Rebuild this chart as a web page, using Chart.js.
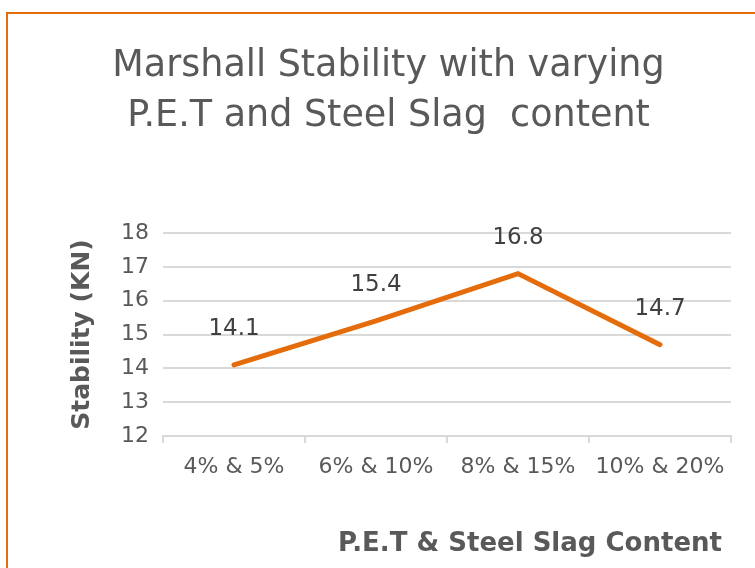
<!DOCTYPE html>
<html>
<head>
<meta charset="utf-8">
<script src="https://cdn.jsdelivr.net/npm/chart.js@4/dist/chart.umd.min.js"></script>
<style>
  html, body { margin: 0; padding: 0; background: #fff; }
  #wrap { position: relative; width: 755px; height: 568px; overflow: hidden; }
  #frame { position: absolute; left: 6px; top: 12px; width: 820px; height: 640px; border: 2px solid #E46C0A; box-sizing: border-box; }
  canvas { position: absolute; left: 0; top: 0; }
</style>
</head>
<body>
<div id="wrap">
  <div id="frame"></div>
  <canvas id="c" width="755" height="568"></canvas>
</div>
<script>
const categories = ["4% & 5%", "6% & 10%", "8% & 15%", "10% & 20%"];
const stability = [14.1, 15.4, 16.8, 14.7];
const titleLines = ["Marshall Stability with varying", "P.E.T and Steel Slag  content"];
const xTitle = "P.E.T & Steel Slag Content";
const yTitle = "Stability (KN)";
const yMin = 12, yMax = 18, yStep = 1;

const FONT = "'DejaVu Sans', sans-serif";

const dataLabels = {
  id: 'dataLabels',
  afterDatasetsDraw(chart) {
    const ctx = chart.ctx;
    const meta = chart.getDatasetMeta(0);
    ctx.save();
    ctx.font = "23px " + FONT;
    ctx.fillStyle = "#404040";
    ctx.textAlign = "center";
    ctx.textBaseline = "middle";
    meta.data.forEach((pt, i) => {
      ctx.fillText(String(chart.data.datasets[0].data[i]), pt.x, pt.y - 36);
    });
    ctx.restore();
  }
};

new Chart(document.getElementById('c'), {
  type: 'line',
  data: {
    labels: categories,
    datasets: [{
      data: stability,
      borderColor: '#E46C0A',
      borderWidth: 5,
      borderCapStyle: 'round',
      borderJoinStyle: 'miter',
      pointRadius: 0,
      tension: 0,
      fill: false
    }]
  },
  options: {
    responsive: false,
    animation: false,
    devicePixelRatio: 1,
    layout: { padding: { left: 46, right: 24, top: 42, bottom: 8 } },
    plugins: {
      legend: { display: false },
      tooltip: { enabled: false },
      title: {
        display: true,
        text: titleLines,
        color: '#595959',
        font: { family: FONT, size: 36.5, weight: 'normal', lineHeight: 1.37 },
        padding: { top: 0, bottom: 91 }
      }
    },
    scales: {
      x: {
        offset: true,
        grid: { display: true, drawOnChartArea: false, drawTicks: true, tickLength: 7, offset: true, color: '#D9D9D9', lineWidth: 2 },
        border: { display: true, color: '#D9D9D9', width: 2 },
        ticks: { color: '#595959', font: { family: FONT, size: 22 }, padding: 11, maxRotation: 0, autoSkip: false },
        title: { display: true, text: xTitle + " ", align: 'end', color: '#595959', font: { family: FONT, size: 26, weight: 'bold', lineHeight: 1.2 }, padding: { top: 0, bottom: 0 } },
        afterFit(scale) { scale.height = 124; }
      },
      y: {
        min: yMin, max: yMax,
        grid: { color: '#D9D9D9', lineWidth: 2, drawTicks: false },
        border: { display: false },
        ticks: { stepSize: yStep, color: '#595959', font: { family: FONT, size: 22 }, padding: 14 },
        title: { display: true, text: yTitle, color: '#595959', font: { family: FONT, size: 25, weight: 'bold', lineHeight: 1.2 }, padding: { top: 21, bottom: 0 } },
        afterFit(scale) { scale.width = 117; }
      }
    }
  },
  plugins: [dataLabels]
});
</script>
</body>
</html>
